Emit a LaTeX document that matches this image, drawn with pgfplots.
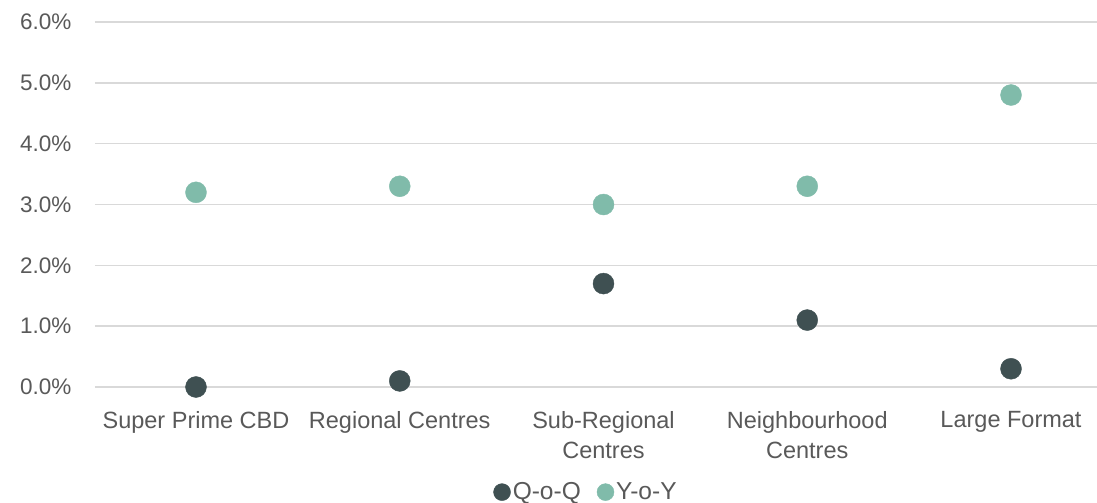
\documentclass[border=0pt]{standalone}
\usepackage{pgfplots}
\pgfplotsset{compat=1.18}
\usepackage{fontspec}
\setmainfont{Liberation Sans}
\definecolor{qoq}{HTML}{3F5052}
\definecolor{yoy}{HTML}{80BBAA}
\definecolor{txt}{HTML}{595959}
\definecolor{grd}{HTML}{D9D9D9}
\begin{document}
\begin{tikzpicture}[x=1pt,y=1pt]
\path[use as bounding box] (-95,-116) rectangle (1002,387);
\begin{axis}[
  at={(0,0)}, anchor=south west,
  scale only axis, width=1002pt, height=365pt,
  xmin=-0.4957, xmax=4.422, ymin=0, ymax=6,
  axis line style={draw=none},
  major tick length=0pt,
  ymajorgrids, grid style={grd, line width=1.6pt},
  ytick={0,1,2,3,4,5,6},
  /pgf/number format/assume math mode=true,
  yticklabel={\pgfmathprintnumber[fixed,fixed zerofill,precision=1]{\tick}\%},
  xtick={0,1,2,3,4},
  xticklabels={Super Prime CBD, Regional Centres, {Sub-Regional\\Centres}, {Neighbourhood\\Centres}, Large Format},
  xticklabel style={align=center, font=\fontsize{23.5}{30}\selectfont, text=txt, yshift=-21pt},
  yticklabel style={font=\fontsize{22.5}{27}\selectfont, text=txt, xshift=-20pt},
  clip=false,
  legend columns=2,
  legend style={draw=none, fill=none, at={(0.49,-0.288)}, anchor=center,
    font=\fontsize{24.5}{27}\selectfont, text=txt,
    /tikz/every even column/.append style={column sep=14pt},
    cells={anchor=west}},
  legend image code/.code={\fill (4pt,0pt) circle (8.5pt);},
]
\addplot[only marks, mark=*, color=qoq, mark size=10.5pt] coordinates {(0,0.0) (1,0.1) (2,1.7) (3,1.1) (4,0.3)};
\addlegendentry{Q-o-Q}
\addplot[only marks, mark=*, color=yoy, mark size=10.5pt] coordinates {(0,3.2) (1,3.3) (2,3.0) (3,3.3) (4,4.8)};
\addlegendentry{Y-o-Y}
\end{axis}
\end{tikzpicture}
\end{document}
